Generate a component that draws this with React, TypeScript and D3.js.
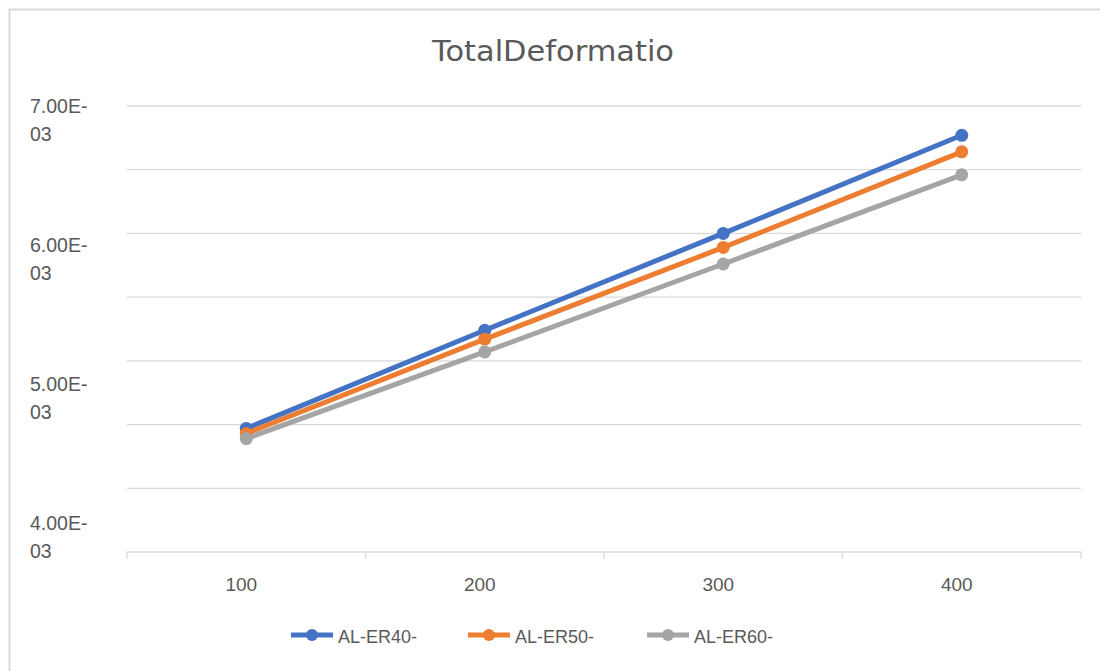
import React from "react";
import * as d3 from "d3";

const categories = ["100", "200", "300", "400"];
const seriesNames = ["AL-ER40-", "AL-ER50-", "AL-ER60-"];
const er40 = [4.47e-3, 5.24e-3, 6.0e-3, 6.77e-3];
const er50 = [4.43e-3, 5.17e-3, 5.89e-3, 6.64e-3];
const er60 = [4.39e-3, 5.07e-3, 5.76e-3, 6.46e-3];
const seriesColors = ["#4472C4", "#ED7D31", "#A5A5A5"];
const gridTicks = [3.5e-3, 4.0e-3, 4.5e-3, 5.0e-3, 5.5e-3, 6.0e-3, 6.5e-3, 7.0e-3];
const labelTicks = [7.0e-3, 6.0e-3, 5.0e-3, 4.0e-3];
const title = "TotalDeformatio";

const W = 1100;
const H = 671;
const FONT = "'Liberation Sans', 'DejaVu Sans', sans-serif";
const TITLE_FONT = "'DejaVu Sans', 'Liberation Sans', sans-serif";

export default function App() {
  const plot = { left: 127, right: 1081, top: 106, bottom: 552 };
  const x = d3.scaleBand<string>().domain(categories).range([plot.left, plot.right]);
  const y = d3.scaleLinear().domain([3.5e-3, 7.0e-3]).range([plot.bottom, plot.top]);
  // wrapped tick labels are spread evenly down the axis
  const labelY = d3.scaleLinear().domain([7.0e-3, 4.0e-3]).range([113, 530]);
  const cx = (i: number) => (x(categories[i]) as number) + x.bandwidth() / 2;
  const line = d3
    .line<number>()
    .x((_, i) => cx(i))
    .y((v) => y(v));
  const data = [er40, er50, er60];
  const fmt = (v: number) => {
    const [m, e] = v.toExponential(2).split("e-");
    return [m, e.padStart(2, "0")];
  };

  const legendX = [291, 468, 647];
  const legendY = 635;

  return (
    <svg width={W} height={H} style={{ position: "absolute", left: 0, top: 0 }} fontFamily={FONT}>
      <rect x={0} y={0} width={W} height={H} fill="#fff" />
      <rect x={9.5} y={9.5} width={W + 20} height={H + 20} fill="none" stroke="#d9d9d9" strokeWidth={2} />
      <text x={553} y={61} textAnchor="middle" fontSize={28} fontFamily={TITLE_FONT} fill="#595959" textLength={242} lengthAdjust="spacingAndGlyphs">
        {title}
      </text>
      {gridTicks.map((t) => (
        <line key={t} x1={plot.left} x2={plot.right} y1={y(t)} y2={y(t)} stroke="#d9d9d9" strokeWidth={1.3} />
      ))}
      {d3.range(categories.length + 1).map((i) => {
        const xx = plot.left + i * x.bandwidth();
        return <line key={i} x1={xx} x2={xx} y1={plot.bottom} y2={plot.bottom + 7} stroke="#d9d9d9" strokeWidth={1.3} />;
      })}
      {labelTicks.map((t) => {
        const [a, b] = fmt(t);
        return (
          <text key={t} x={30} y={labelY(t)} fontSize={19.5} fill="#595959">
            <tspan x={30}>{a}E-</tspan>
            <tspan x={30} dy={28}>{b}</tspan>
          </text>
        );
      })}
      {categories.map((c, i) => (
        <text key={c} x={cx(i) - 5} y={591} textAnchor="middle" fontSize={19} fill="#595959">
          {c}
        </text>
      ))}
      {data.map((s, si) => (
        <g key={si}>
          <path d={line(s) as string} fill="none" stroke={seriesColors[si]} strokeWidth={5} strokeLinejoin="round" />
          {s.map((v, i) => (
            <circle key={i} cx={cx(i)} cy={y(v)} r={6.5} fill={seriesColors[si]} />
          ))}
        </g>
      ))}
      {seriesNames.map((n, i) => (
        <g key={n}>
          <line x1={legendX[i]} x2={legendX[i] + 42} y1={legendY} y2={legendY} stroke={seriesColors[i]} strokeWidth={5} />
          <circle cx={legendX[i] + 21} cy={legendY} r={6} fill={seriesColors[i]} />
          <text x={legendX[i] + 47} y={643} fontSize={18} fill="#595959">
            {n}
          </text>
        </g>
      ))}
    </svg>
  );
}
